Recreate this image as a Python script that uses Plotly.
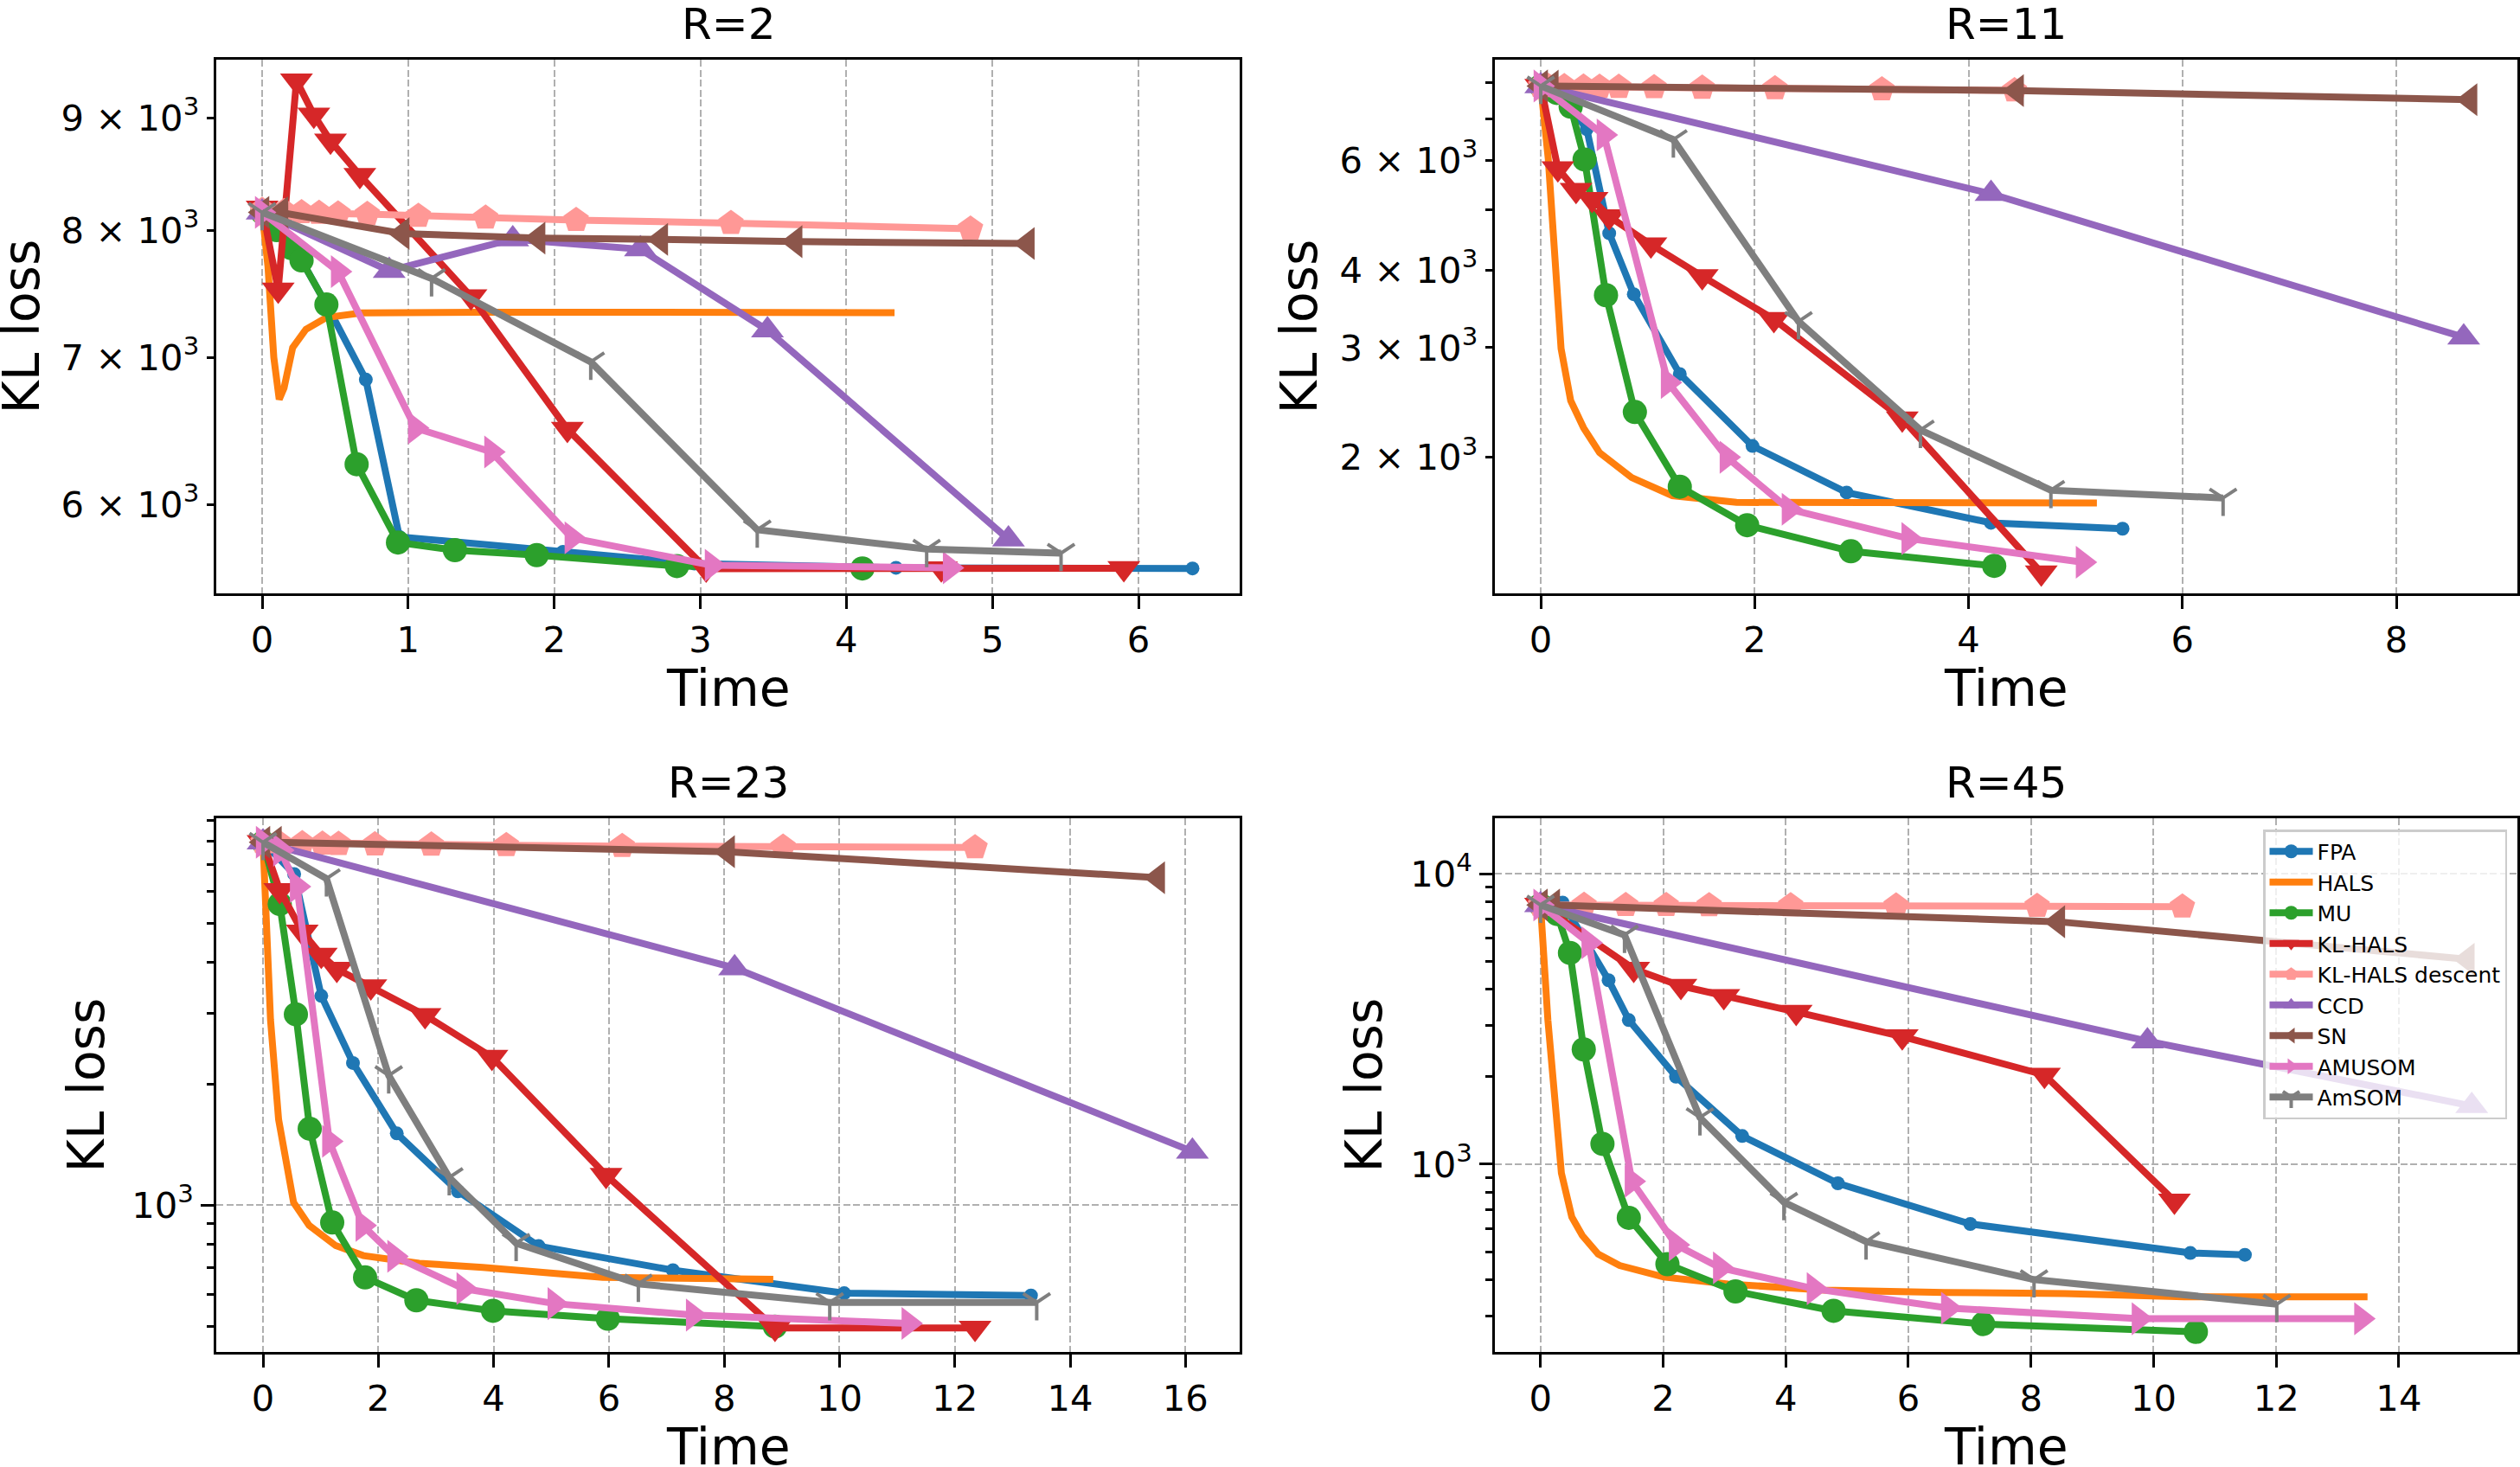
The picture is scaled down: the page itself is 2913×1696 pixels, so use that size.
import plotly.graph_objects as go

FONT = "DejaVu Sans"
W, H = 2913, 1696

# ---------------- data: R=2 ----------------
r2_fpa_t = [0, 0.20, 0.45, 0.71, 0.94, 2.06, 2.96, 4.34, 6.37]
r2_fpa_y = [8150, 7900, 7380, 6840, 5800, 5710, 5640, 5615, 5611]
r2_hals_t = [0, 0.04, 0.08, 0.117, 0.15, 0.209, 0.30, 0.44, 0.68, 0.96, 1.5, 2.5, 3.5, 4.33]
r2_hals_y = [8150, 7700, 7000, 6699, 6780, 7073, 7210, 7300, 7335, 7340, 7340, 7340, 7340, 7337]
r2_mu_t = [0, 0.10, 0.20, 0.27, 0.44, 0.647, 0.93, 1.32, 1.88, 2.84, 4.11]
r2_mu_y = [8150, 8000, 7850, 7750, 7400, 6259, 5766, 5720, 5690, 5625, 5611]
r2_klhals_t = [0, 0.11, 0.235, 0.354, 0.468, 0.669, 1.43, 2.09, 3.04, 4.65, 5.90]
r2_klhals_y = [8190, 7516, 9357, 9027, 8785, 8474, 7463, 6494, 5610, 5611, 5612]
r2_kld_t = [0, 0.15, 0.27, 0.39, 0.52, 0.72, 1.07, 1.53, 2.15, 3.21, 4.85]
r2_kld_y = [8170, 8160, 8150, 8145, 8140, 8135, 8120, 8104, 8085, 8059, 8012]
r2_ccd_t = [0, 0.87, 1.716, 2.59, 3.46, 5.11]
r2_ccd_y = [8150, 7666, 7925, 7842, 7203, 5785]
r2_sn_t = [0, 0.13, 0.96, 1.89, 2.73, 3.65, 5.24]
r2_sn_y = [8150, 8148, 7971, 7934, 7923, 7904, 7889]
r2_amusom_t = [0, 0.52, 1.048, 1.57, 2.12, 3.08, 4.71]
r2_amusom_y = [8150, 7660, 6502, 6340, 5794, 5630, 5615]
r2_amsom_t = [0, 1.16, 2.25, 3.39, 4.55, 5.47]
r2_amsom_y = [8150, 7605, 6968, 5843, 5726, 5702]

# ---------------- data: R=11 ----------------
r11_fpa_t = [0, 0.19, 0.43, 0.64, 0.87, 1.30, 1.98, 2.86, 4.21, 5.44]
r11_fpa_y = [7900, 7650, 6735, 4581, 3655, 2721, 2085, 1755, 1569, 1535]
r11_hals_t = [0, 0.07, 0.19, 0.28, 0.40, 0.55, 0.85, 1.23, 1.83, 3.0, 4.0, 5.2]
r11_hals_y = [7900, 6039, 2989, 2466, 2230, 2034, 1855, 1735, 1692, 1690, 1689, 1688]
r11_mu_t = [0, 0.15, 0.28, 0.41, 0.61, 0.88, 1.30, 1.93, 2.90, 4.24]
r11_mu_y = [7900, 7700, 7320, 6017, 3643, 2364, 1793, 1555, 1412, 1338]
r11_klhals_t = [0, 0.16, 0.33, 0.48, 0.64, 1.03, 1.51, 2.18, 3.38, 4.68]
r11_klhals_y = [7900, 5821, 5373, 5195, 4874, 4393, 3907, 3333, 2306, 1305]
r11_kld_t = [0, 0.07, 0.22, 0.40, 0.55, 0.73, 1.06, 1.51, 2.19, 3.19, 4.43]
r11_kld_y = [7900, 7895, 7890, 7880, 7875, 7870, 7860, 7845, 7830, 7800, 7770]
r11_ccd_t = [0, 4.21, 8.63]
r11_ccd_y = [7900, 5302, 3117]
r11_sn_t = [0, 0.10, 4.45, 8.69]
r11_sn_y = [7900, 7895, 7766, 7510]
r11_amusom_t = [0, 0.59, 1.19, 1.74, 2.32, 3.44, 5.07]
r11_amusom_y = [7900, 6590, 2636, 2000, 1650, 1480, 1356]
r11_amsom_t = [0, 1.24, 2.41, 3.55, 4.77, 6.38]
r11_amsom_y = [7900, 6479, 3306, 2212, 1770, 1720]

# ---------------- data: R=23 ----------------
r23_fpa_t = [0, 0.54, 1.01, 1.56, 2.32, 3.38, 4.78, 7.11, 10.08, 13.32]
r23_fpa_y = [7950, 6634, 3307, 2254, 1507, 1083, 792, 690, 605, 597]
r23_hals_t = [0, 0.13, 0.27, 0.53, 0.80, 1.26, 1.74, 2.71, 3.81, 5.89, 8.85]
r23_hals_y = [7950, 2883, 1632, 1016, 891, 794, 750, 718, 701, 662, 655]
r23_mu_t = [0, 0.29, 0.57, 0.81, 1.20, 1.77, 2.66, 3.99, 5.98, 8.88]
r23_mu_y = [7950, 5587, 2976, 1548, 906, 662, 581, 547, 523, 500]
r23_klhals_t = [0, 0.29, 0.68, 1.01, 1.28, 1.87, 2.81, 3.97, 5.95, 8.88, 12.35]
r23_klhals_y = [7950, 6046, 4767, 4176, 3857, 3487, 2960, 2332, 1188, 496, 496]
r23_kld_t = [0, 0.27, 0.68, 1.03, 1.31, 1.94, 2.92, 4.22, 6.23, 9.02, 12.35]
r23_kld_y = [7950, 7940, 7900, 7880, 7870, 7850, 7840, 7820, 7780, 7750, 7717]
r23_ccd_t = [0, 8.18, 16.12]
r23_ccd_y = [7950, 3877, 1360]
r23_sn_t = [0, 0.20, 8.06, 15.52]
r23_sn_y = [7950, 7950, 7534, 6495]
r23_amusom_t = [0, 0.30, 0.59, 1.15, 1.73, 2.28, 3.48, 5.06, 7.46, 11.20]
r23_amusom_y = [7950, 7600, 6175, 1441, 891, 747, 621, 570, 534, 509]
r23_amsom_t = [0, 1.10, 2.18, 3.23, 4.39, 6.51, 9.83, 13.42]
r23_amsom_y = [7950, 6462, 2098, 1172, 805, 638, 574, 574]

# ---------------- data: R=45 ----------------
r45_fpa_t = [0, 0.36, 1.11, 1.44, 2.21, 3.29, 4.85, 7.01, 10.60, 11.49]
r45_fpa_y = [7800, 7950, 4297, 3133, 2000, 1251, 860, 623, 495, 488]
r45_hals_t = [0, 0.12, 0.34, 0.51, 0.68, 0.94, 1.29, 2.01, 3.06, 4.63, 6.59, 8.55, 10.5, 13.49]
r45_hals_y = [7800, 3128, 933, 658, 569, 491, 448, 409, 387, 369, 362, 359, 350, 350]
r45_mu_t = [0, 0.27, 0.48, 0.705, 1.01, 1.44, 2.07, 3.18, 4.78, 7.22, 10.69]
r45_mu_y = [7800, 7262, 5334, 2483, 1175, 654, 453, 365, 313, 282, 265]
r45_klhals_t = [0, 1.52, 2.29, 2.99, 4.17, 5.90, 8.22, 10.34]
r45_klhals_y = [7800, 4700, 4102, 3785, 3342, 2751, 2029, 748]
r45_kld_t = [0, 0.71, 1.39, 2.05, 2.75, 4.08, 5.80, 8.10, 10.47]
r45_kld_y = [7800, 7800, 7790, 7790, 7780, 7770, 7760, 7740, 7700]
r45_ccd_t = [0, 9.90, 15.19]
r45_ccd_y = [7800, 2652, 1587]
r45_sn_t = [0, 0.20, 8.44, 15.12]
r45_sn_y = [7800, 7800, 6830, 5075]
r45_amusom_t = [0, 0.785, 1.49, 2.21, 2.93, 4.46, 6.65, 9.76, 13.39]
r45_amusom_y = [7800, 5784, 873, 528, 440, 373, 320, 294, 294]
r45_amsom_t = [0, 1.37, 2.60, 3.97, 5.31, 8.05, 12.01]
r45_amsom_y = [7800, 6150, 1448, 740, 542, 401, 330]

# ---------------- labels / ticks ----------------
methods = ["FPA", "HALS", "MU", "KL-HALS", "KL-HALS descent", "CCD", "SN", "AMUSOM", "AmSOM"]
titles = ["R=2", "R=11", "R=23", "R=45"]
x_ticks = [[0, 1, 2, 3, 4, 5, 6], [0, 2, 4, 6, 8],
           [0, 2, 4, 6, 8, 10, 12, 14, 16], [0, 2, 4, 6, 8, 10, 12, 14]]
y_major_vals = [[6000, 7000, 8000, 9000], [2000, 3000, 4000, 6000], [1000], [1000, 10000]]
y_major_text = [["6 × 10<sup>3</sup>", "7 × 10<sup>3</sup>", "8 × 10<sup>3</sup>", "9 × 10<sup>3</sup>"],
                ["2 × 10<sup>3</sup>", "3 × 10<sup>3</sup>", "4 × 10<sup>3</sup>", "6 × 10<sup>3</sup>"],
                ["10<sup>3</sup>"], ["10<sup>3</sup>", "10<sup>4</sup>"]]
y_minor_vals = [[], [5000, 7000, 8000],
                [500, 600, 700, 800, 900, 2000, 3000, 4000, 5000, 6000, 7000, 8000, 9000],
                [300, 400, 500, 600, 700, 800, 900, 2000, 3000, 4000, 5000, 6000, 7000, 8000, 9000]]

panel_data = [
    [(r2_fpa_t, r2_fpa_y), (r2_hals_t, r2_hals_y), (r2_mu_t, r2_mu_y), (r2_klhals_t, r2_klhals_y),
     (r2_kld_t, r2_kld_y), (r2_ccd_t, r2_ccd_y), (r2_sn_t, r2_sn_y), (r2_amusom_t, r2_amusom_y),
     (r2_amsom_t, r2_amsom_y)],
    [(r11_fpa_t, r11_fpa_y), (r11_hals_t, r11_hals_y), (r11_mu_t, r11_mu_y), (r11_klhals_t, r11_klhals_y),
     (r11_kld_t, r11_kld_y), (r11_ccd_t, r11_ccd_y), (r11_sn_t, r11_sn_y), (r11_amusom_t, r11_amusom_y),
     (r11_amsom_t, r11_amsom_y)],
    [(r23_fpa_t, r23_fpa_y), (r23_hals_t, r23_hals_y), (r23_mu_t, r23_mu_y), (r23_klhals_t, r23_klhals_y),
     (r23_kld_t, r23_kld_y), (r23_ccd_t, r23_ccd_y), (r23_sn_t, r23_sn_y), (r23_amusom_t, r23_amusom_y),
     (r23_amsom_t, r23_amsom_y)],
    [(r45_fpa_t, r45_fpa_y), (r45_hals_t, r45_hals_y), (r45_mu_t, r45_mu_y), (r45_klhals_t, r45_klhals_y),
     (r45_kld_t, r45_kld_y), (r45_ccd_t, r45_ccd_y), (r45_sn_t, r45_sn_y), (r45_amusom_t, r45_amusom_y),
     (r45_amsom_t, r45_amsom_y)],
]

# ---------------- styles ----------------
colors = ["#1f77b4", "#ff7f0e", "#2ca02c", "#d62728", "#ff9896", "#9467bd", "#8c564b", "#e377c2", "#7f7f7f"]
symbols = ["circle", None, "circle", "triangle-down", "pentagon", "triangle-up", "triangle-left",
           "triangle-right", "y-down"]
msizes = [16, 0, 28, 33, 31, 33, 33, 33, 26]

# panel boxes in pixels: left, right, top, bottom
boxes = [(250, 1433, 69, 686), (1728, 2910, 69, 686), (250, 1433, 946, 1563), (1728, 2910, 946, 1563)]
x_ranges = [[-0.314, 6.693], [-0.429, 9.132], [-0.811, 16.94], [-0.745, 15.935]]
y_ranges = [[3.7377, 3.9807], [3.0822, 3.9399], [2.636, 3.960], [2.354, 4.1905]]
ylabel_x = [25, 1502, 99, 1576]

fig = go.Figure()

for p in range(4):
    ax = "" if p == 0 else str(p + 1)
    for m in range(9):
        t, y = panel_data[p][m]
        sym = symbols[m]
        tr = dict(x=t, y=y, name=methods[m], legendgroup=methods[m], showlegend=(p == 3),
                  xaxis="x" + ax, yaxis="y" + ax,
                  line=dict(color=colors[m], width=8))
        if sym is None:
            tr["mode"] = "lines"
        else:
            tr["mode"] = "lines+markers"
            if sym == "y-down":
                tr["marker"] = dict(symbol=sym, size=msizes[m], color=colors[m],
                                    line=dict(color=colors[m], width=4))
            else:
                tr["marker"] = dict(symbol=sym, size=msizes[m], color=colors[m],
                                    line=dict(width=0))
        fig.add_trace(go.Scatter(**tr))

layout = dict(
    width=W, height=H,
    margin=dict(l=0, r=0, t=0, b=0),
    paper_bgcolor="white", plot_bgcolor="white",
    font=dict(family=FONT, color="black"),
    showlegend=True,
    legend=dict(x=2898 / W, xanchor="right", y=1 - 959 / H, yanchor="top",
                bgcolor="rgba(255,255,255,0.8)", bordercolor="#cccccc", borderwidth=2.5,
                font=dict(family=FONT, size=25), itemwidth=50, tracegroupgap=0),
)

annotations = []
for p in range(4):
    l, r, t, b = boxes[p]
    xk = "xaxis" if p == 0 else "xaxis" + str(p + 1)
    yk = "yaxis" if p == 0 else "yaxis" + str(p + 1)
    ak = "y" if p == 0 else "y" + str(p + 1)
    xa = "x" if p == 0 else "x" + str(p + 1)
    layout[xk] = dict(
        domain=[l / W, r / W], anchor=ak, range=x_ranges[p],
        tickmode="array", tickvals=x_ticks[p], ticktext=[str(v) for v in x_ticks[p]],
        ticks="outside", ticklen=14.6, tickwidth=3.3, tickcolor="black",
        tickfont=dict(family=FONT, size=41.7, color="black"),
        showline=True, linecolor="black", linewidth=3.3, mirror=True,
        showgrid=True, gridcolor="#b0b0b0", gridwidth=2, griddash="8px,3.5px",
        zeroline=False,
    )
    major_is_minor = p in (0, 1)
    layout[yk] = dict(
        domain=[1 - b / H, 1 - t / H], anchor=xa, type="log", range=y_ranges[p],
        tickmode="array", tickvals=y_major_vals[p], ticktext=y_major_text[p],
        ticks="outside", ticklen=(8.3 if major_is_minor else 14.6),
        tickwidth=(2.5 if major_is_minor else 3.3), tickcolor="black",
        tickfont=dict(family=FONT, size=41.7, color="black"),
        showline=True, linecolor="black", linewidth=3.3, mirror=True,
        showgrid=(not major_is_minor), gridcolor="#b0b0b0", gridwidth=2, griddash="8px,3.5px",
        zeroline=False,
        minor=dict(tickmode="array", tickvals=y_minor_vals[p], ticks="outside",
                   ticklen=8.3, tickwidth=2.5, tickcolor="black", showgrid=False),
    )
    cx = (l + r) / 2 / W
    annotations.append(dict(text=titles[p], x=cx, y=1 - (t - 41) / H, xref="paper", yref="paper",
                            xanchor="center", yanchor="middle", showarrow=False,
                            font=dict(family=FONT, size=50, color="black")))
    annotations.append(dict(text="Time", x=cx, y=1 - (b + 110) / H, xref="paper", yref="paper",
                            xanchor="center", yanchor="middle", showarrow=False,
                            font=dict(family=FONT, size=58.3, color="black")))
    annotations.append(dict(text="KL loss", x=ylabel_x[p] / W, y=1 - (t + b) / 2 / H,
                            xref="paper", yref="paper", xanchor="center", yanchor="middle",
                            textangle=-90, showarrow=False,
                            font=dict(family=FONT, size=58.3, color="black")))

layout["annotations"] = annotations
fig.update_layout(**layout)
fig.write_html("out.html")
